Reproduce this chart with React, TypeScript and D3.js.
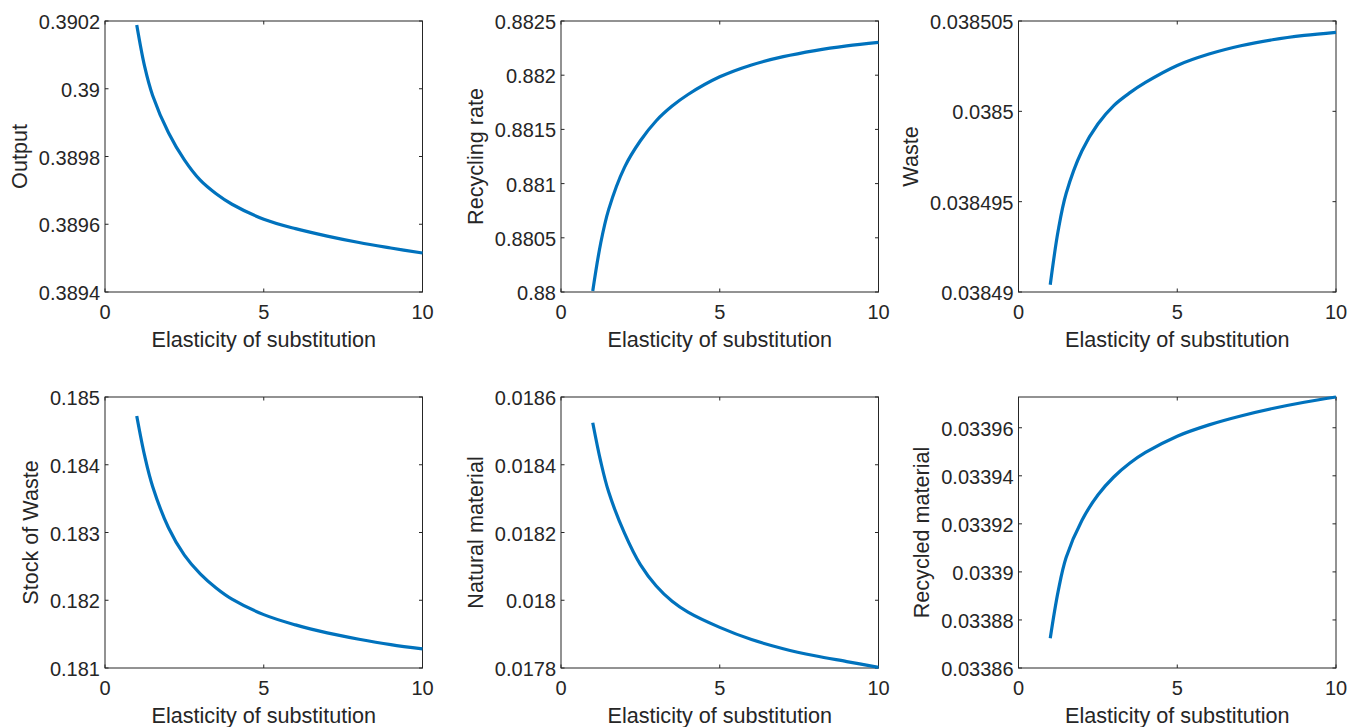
import React, { useEffect, useRef } from "react";
import * as d3 from "d3";

// elasticity of substitution (x), shared by all panels
const sigma = [1, 1.25, 1.5, 2, 2.5, 3, 3.5, 4, 5, 6, 7, 8, 9, 10];

const output = [
  0.390188, 0.390065, 0.38998, 0.38987, 0.38979, 0.38973, 0.38969,
  0.389659, 0.389615, 0.389587, 0.389565, 0.389546, 0.38953, 0.389515,
];
const recyclingRate = [
  0.88001, 0.88045, 0.88076, 0.88115, 0.881395, 0.88158, 0.881715,
  0.881822, 0.881985, 0.882095, 0.882171, 0.882227, 0.88227, 0.882303,
];
const waste = [
  0.0384904, 0.0384934, 0.03849545, 0.03849782, 0.0384993, 0.03850032,
  0.03850102, 0.0385016, 0.03850254, 0.03850317, 0.03850363, 0.03850396,
  0.0385042, 0.03850437,
];
const stockOfWaste = [
  0.18472, 0.18413, 0.18368, 0.18307, 0.182665, 0.182388, 0.18218,
  0.182015, 0.181788, 0.181636, 0.181518, 0.181425, 0.181345, 0.181281,
];
const naturalMaterial = [
  0.018524, 0.01841, 0.01832, 0.018198, 0.018105, 0.018042, 0.017997,
  0.017965, 0.01792, 0.017884, 0.017857, 0.017836, 0.017819, 0.017802,
];
const recycledMaterial = [
  0.0338724, 0.033892, 0.033906, 0.0339215, 0.033932, 0.0339395, 0.0339452,
  0.0339497, 0.0339565, 0.0339612, 0.0339649, 0.033968, 0.0339706, 0.0339728,
];

const xTicks = ["0", "5", "10"];
const xLabel = "Elasticity of substitution";

const panels = [
  { label: "Output", values: output, domain: [0.3894, 0.3902],
    ticks: ["0.3894", "0.3896", "0.3898", "0.39", "0.3902"] },
  { label: "Recycling rate", values: recyclingRate, domain: [0.88, 0.8825],
    ticks: ["0.88", "0.8805", "0.881", "0.8815", "0.882", "0.8825"] },
  { label: "Waste", values: waste, domain: [0.03849, 0.038505],
    ticks: ["0.03849", "0.038495", "0.0385", "0.038505"] },
  { label: "Stock of Waste", values: stockOfWaste, domain: [0.181, 0.185],
    ticks: ["0.181", "0.182", "0.183", "0.184", "0.185"] },
  { label: "Natural material", values: naturalMaterial, domain: [0.0178, 0.0186],
    ticks: ["0.0178", "0.018", "0.0182", "0.0184", "0.0186"] },
  { label: "Recycled material", values: recycledMaterial, domain: [0.03386, 0.0339728],
    ticks: ["0.03386", "0.03388", "0.0339", "0.03392", "0.03394", "0.03396"] },
];

const W = 1349;
const H = 727;
const FONT = "'Liberation Sans', Arial, Helvetica, sans-serif";
const INK = "#262626";
const BLUE = "#0072BD";

export default function App() {
  const svgRef = useRef<SVGSVGElement>(null);

  useEffect(() => {
    const svg = d3.select(svgRef.current);
    svg.selectAll("*").remove();

    const lefts = [105, 561, 1018.5];
    const tops = [21, 397];
    const pw = 317.5;
    const ph = 271;
    const tick = 3.5;

    panels.forEach((p, i) => {
      const left = lefts[i % 3];
      const top = tops[Math.floor(i / 3)];
      const g = svg.append("g").attr("transform", `translate(${left},${top})`);

      const x = d3.scaleLinear().domain([0, 10]).range([0, pw]);
      const y = d3.scaleLinear().domain(p.domain).range([ph, 0]);

      // box
      g.append("rect")
        .attr("width", pw)
        .attr("height", ph)
        .attr("fill", "none")
        .attr("stroke", INK)
        .attr("stroke-width", 1);

      // x ticks (bottom + top, inward)
      xTicks.forEach((t) => {
        const xv = x(+t);
        g.append("line").attr("x1", xv).attr("x2", xv).attr("y1", ph).attr("y2", ph - tick).attr("stroke", INK);
        g.append("line").attr("x1", xv).attr("x2", xv).attr("y1", 0).attr("y2", tick).attr("stroke", INK);
        g.append("text")
          .attr("x", xv)
          .attr("y", ph + 26.5)
          .attr("text-anchor", "middle")
          .attr("font-family", FONT)
          .attr("font-size", 20)
          .attr("fill", INK)
          .text(t);
      });

      // y ticks (left + right, inward)
      let minX = 0;
      p.ticks.forEach((t) => {
        const yv = y(+t);
        g.append("line").attr("x1", 0).attr("x2", tick).attr("y1", yv).attr("y2", yv).attr("stroke", INK);
        g.append("line").attr("x1", pw).attr("x2", pw - tick).attr("y1", yv).attr("y2", yv).attr("stroke", INK);
        const txt = g.append("text")
          .attr("x", -5)
          .attr("y", yv + 8)
          .attr("text-anchor", "end")
          .attr("font-family", FONT)
          .attr("font-size", 20)
          .attr("fill", INK)
          .text(t);
        const bb = (txt.node() as SVGTextElement).getBBox();
        minX = Math.min(minX, bb.x);
      });

      // x label
      g.append("text")
        .attr("x", pw / 2)
        .attr("y", ph + 54.5)
        .attr("text-anchor", "middle")
        .attr("font-family", FONT)
        .attr("font-size", 21.6)
        .attr("fill", INK)
        .text(xLabel);

      // y label, placed left of the widest tick label
      const lx = minX - 12;
      g.append("text")
        .attr("transform", `translate(${lx},${ph / 2}) rotate(-90)`)
        .attr("text-anchor", "middle")
        .attr("font-family", FONT)
        .attr("font-size", 21.6)
        .attr("fill", INK)
        .text(p.label);

      // curve
      const line = d3
        .line<number>()
        .x((_, j) => x(sigma[j]))
        .y((d) => y(d))
        .curve(d3.curveCatmullRom.alpha(0.5));

      g.append("path")
        .datum(p.values)
        .attr("d", line)
        .attr("fill", "none")
        .attr("stroke", BLUE)
        .attr("stroke-width", 3.2);
    });
  }, []);

  return (
    <svg
      ref={svgRef}
      width={W}
      height={H}
      style={{ position: "absolute", left: 0, top: 0, background: "#fff" }}
    />
  );
}
